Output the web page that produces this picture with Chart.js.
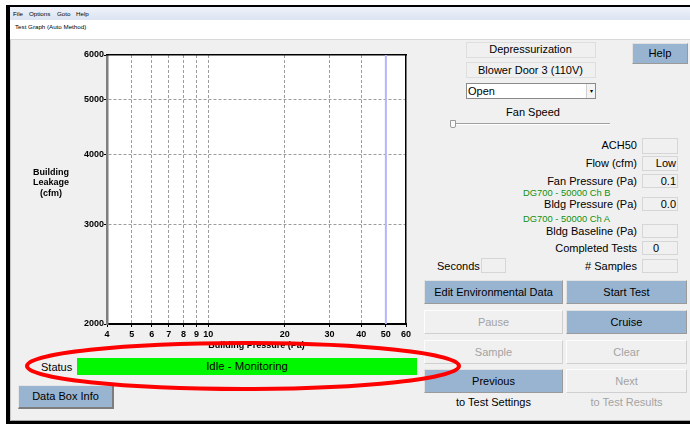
<!DOCTYPE html>
<html>
<head>
<meta charset="utf-8">
<script src="https://cdn.jsdelivr.net/npm/chart.js@4/dist/chart.umd.min.js"></script>
<style>
	body { margin: 0; background: #fff; font-family: "Liberation Sans", Arial, sans-serif; }
	#app { position: relative; width: 690px; height: 424px; overflow: hidden; background: #fff; }
	#app div, #app span { position: absolute; box-sizing: border-box; white-space: nowrap; }
	.blk { background: #000; }
	.lbl { right: 53px; font-size: 11px; line-height: 14px; text-align: right; color: #000; }
	.box { background: #f0f0f0; border: 1px solid #d6d6d6; font-size: 11px; text-align: right; padding-right: 1px; }
	.dg { left: 523px; font-size: 9.4px; line-height: 12px; color: #109010; }
	.btn { text-align: center; font-size: 11px; border: 1px solid; }
	.blue { background: #99b4d1; border-color: #e2e2e2 #9a9a9a #9a9a9a #e2e2e2; color: #000; }
	.off { background: #f0f0f0; border-color: #fdfdfd #cfcfcf #cfcfcf #fdfdfd; color: #a3a3a3; }
</style>
</head>
<body>
<div id="app">
	<div class="blk" style="left:6px;top:5px;width:684px;height:2px"></div>
	<div class="blk" style="left:6px;top:5px;width:4px;height:419px"></div>
	<div style="left:10px;top:7px;width:680px;height:13px;background:linear-gradient(#eef2fa,#dce4f2);font-size:6.2px;line-height:13px;color:#000">
		<span style="left:3px">File</span><span style="left:19px">Options</span><span style="left:47px">Goto</span><span style="left:66px">Help</span>
	</div>
	<div style="left:10px;top:20px;width:680px;height:19px;background:#fff;font-size:6.2px;line-height:14px;padding-left:5px">Test Graph (Auto Method)</div>
	<div style="left:10px;top:39px;width:680px;height:382px;background:#f0f0f0;border-top:1px solid #d8d8d8;border-left:1px solid #c4c4c4;border-bottom:1px solid #a8a8a8"></div>
	<div class="blk" style="left:6px;top:421px;width:684px;height:3px"></div>

	<div style="left:60px;top:45px;width:360px;height:310px"><canvas id="myChart"></canvas></div>
	<div style="left:24px;top:167px;width:54px;text-align:center;font-weight:bold;font-size:9px;line-height:10.4px;white-space:normal">Building<br>Leakage<br>(cfm)</div>

	<div style="left:41px;top:359px;font-size:11px;line-height:16px">Status</div>
	<div style="left:77px;top:358px;width:340px;height:17px;background:#00f700;font-size:11.4px;line-height:17px;text-align:center">Idle - Monitoring</div>
	<div class="btn blue" style="left:18px;top:385px;width:96px;height:24px;line-height:21px;border-color:#e6e6e6 #7d7d7d #7d7d7d #e6e6e6;border-width:1px 2px 2px 1px">Data Box Info</div>

	<div class="box" style="left:466px;top:42px;width:130px;height:16px;text-align:center;line-height:13px;border-color:#dedede">Depressurization</div>
	<div class="box" style="left:466px;top:62px;width:130px;height:16px;text-align:center;line-height:14px;border-color:#dedede">Blower Door 3 (110V)</div>
	<div style="left:466px;top:83px;width:130px;height:16px;background:#fff;border:1px solid #8a8a8a;font-size:11px;line-height:14px;padding-left:1px">Open
		<span style="right:0;top:0;width:9px;height:14px;border-left:1px solid #d0d0d0;background:#f4f4f4;font-size:6px;line-height:14px;text-align:center">&#9662;</span>
	</div>
	<div style="left:466px;top:105px;width:134px;font-size:11px;line-height:14px;text-align:center">Fan Speed</div>
	<div style="left:452px;top:123px;width:158px;height:2px;background:#a0a0a0;border-bottom:1px solid #fff"></div>
	<div style="left:450px;top:120px;width:6px;height:8px;background:#fbfbfb;border:1px solid #9a9a9a;border-radius:0 0 2px 2px"></div>
	<div class="btn blue" style="left:632px;top:43px;width:56px;height:21px;line-height:19px;font-size:11.2px">Help</div>

	<div class="lbl" style="top:138px">ACH50</div>
	<div class="box" style="left:642px;top:138px;width:36px;height:16px"></div>
	<div class="lbl" style="top:156px">Flow (cfm)</div>
	<div class="box" style="left:642px;top:156px;width:36px;height:15px;line-height:13px">Low</div>
	<div class="lbl" style="top:174px">Fan Pressure (Pa)</div>
	<div class="box" style="left:642px;top:174px;width:36px;height:14px;line-height:12px">0.1</div>
	<div class="dg" style="top:187px">DG700 - 50000 Ch B</div>
	<div class="lbl" style="top:197px">Bldg Pressure (Pa)</div>
	<div class="box" style="left:642px;top:197px;width:36px;height:14px;line-height:12px">0.0</div>
	<div class="dg" style="top:213px">DG700 - 50000 Ch A</div>
	<div class="lbl" style="top:224px">Bldg Baseline (Pa)</div>
	<div class="box" style="left:642px;top:224px;width:36px;height:14px"></div>
	<div class="lbl" style="top:241px">Completed Tests</div>
	<div class="box" style="left:642px;top:241px;width:36px;height:14px;line-height:12px;text-align:left;padding-left:10px">0</div>
	<div style="left:437px;top:259px;font-size:11px;line-height:14px">Seconds</div>
	<div class="box" style="left:481px;top:258px;width:25px;height:15px"></div>
	<div class="lbl" style="top:259px"># Samples</div>
	<div class="box" style="left:642px;top:259px;width:36px;height:14px"></div>

	<div class="btn blue" style="left:424px;top:280px;width:139px;height:24px;line-height:22px">Edit Environmental Data</div>
	<div class="btn blue" style="left:566px;top:280px;width:121px;height:24px;line-height:22px">Start Test</div>
	<div class="btn off" style="left:424px;top:310px;width:139px;height:24px;line-height:22px">Pause</div>
	<div class="btn blue" style="left:566px;top:310px;width:121px;height:24px;line-height:22px">Cruise</div>
	<div class="btn off" style="left:424px;top:340px;width:139px;height:24px;line-height:22px">Sample</div>
	<div class="btn off" style="left:566px;top:340px;width:121px;height:24px;line-height:22px">Clear</div>
	<div class="btn blue" style="left:424px;top:369px;width:139px;height:24px;line-height:22px">Previous</div>
	<div class="btn off" style="left:566px;top:369px;width:121px;height:24px;line-height:22px">Next</div>
	<div style="left:424px;top:395px;width:139px;font-size:11px;line-height:14px;text-align:center">to Test Settings</div>
	<div style="left:566px;top:395px;width:121px;font-size:11px;line-height:14px;text-align:center;color:#a3a3a3">to Test Results</div>

	<svg style="position:absolute;left:0;top:0" width="690" height="424">
		<ellipse cx="243" cy="366" rx="216" ry="23" fill="none" stroke="#f00" stroke-width="4"/>
	</svg>
</div>
<script>
// шкалы
const pressureTicks = [4, 5, 6, 7, 8, 9, 10, 20, 30, 40, 50, 60]
const leakageTicks = [2000, 3000, 4000, 5000, 6000]

// целевое давление 50 Па
const targetPressure = [50, 50]
const targetLeakage = [2000, 6000]

const plotBackground = {
	id: "plotBackground",
	beforeDraw(chart) {
		const {ctx, chartArea: a} = chart
		ctx.save()
		ctx.fillStyle = "#fff"
		ctx.fillRect(a.left, a.top, a.right - a.left, a.bottom - a.top)
		ctx.restore()
	}
}

const tickFont = {family: "'Liberation Sans', Arial", size: 9, weight: "bold"}

function gridColor(edges) {
	return (c) => (c.tick && edges.includes(c.tick.value)) ? "rgba(0,0,0,0)" : "#9c9c9c"
}

new Chart("myChart", {
	type: "line",
	data: {
		datasets: [
			{
				data: targetPressure.map((x, i) => ({x: x, y: targetLeakage[i]})),
				borderColor: "#b4b4ff",
				borderWidth: 2,
				pointRadius: 0,
				fill: false
			}
		]
	},
	options: {
		responsive: true,
		maintainAspectRatio: false,
		animation: false,
		layout: {padding: 0},
		plugins: {
			legend: {display: false},
			tooltip: {enabled: false}
		},
		scales: {
			x: {
				type: "logarithmic",
				position: "bottom",
				min: 4,
				max: 60,
				afterBuildTicks: (s) => { s.ticks = pressureTicks.map((v) => ({value: v})) },
				afterFit: (s) => { s.height = 31 },
				ticks: {
					autoSkip: false,
					maxRotation: 0,
					padding: 2,
					color: "#000",
					font: tickFont,
					callback: (v) => String(v)
				},
				grid: {color: gridColor([4, 60]), tickColor: "#000", tickLength: 3, lineWidth: 1},
				border: {color: "#000", width: 2, dash: [3, 2]},
				title: {
					display: true,
					text: "Building Pressure (Pa)",
					color: "#000",
					font: tickFont,
					padding: {top: 0, bottom: 4}
				}
			},
			y: {
				type: "logarithmic",
				position: "left",
				min: 2000,
				max: 6000,
				afterBuildTicks: (s) => { s.ticks = leakageTicks.map((v) => ({value: v})) },
				afterFit: (s) => { s.width = 47 },
				ticks: {
					autoSkip: false,
					padding: 0,
					color: "#000",
					font: tickFont,
					callback: (v) => String(v)
				},
				grid: {color: gridColor([2000, 6000]), tickColor: "#000", tickLength: 3, lineWidth: 1},
				border: {color: "#7f7f7f", width: 2.5, dash: [3, 2]}
			},
			x2: {
				axis: "x",
				type: "logarithmic",
				position: "top",
				min: 4,
				max: 60,
				afterFit: (s) => { s.height = 10 },
				ticks: {display: false},
				grid: {display: false},
				border: {color: "#000", width: 1.5}
			},
			y2: {
				axis: "y",
				type: "logarithmic",
				position: "right",
				min: 2000,
				max: 6000,
				afterFit: (s) => { s.width = 14 },
				ticks: {display: false},
				grid: {display: false},
				border: {color: "#000", width: 1.5}
			}
		}
	},
	plugins: [plotBackground]
})
</script>
</body>
</html>
